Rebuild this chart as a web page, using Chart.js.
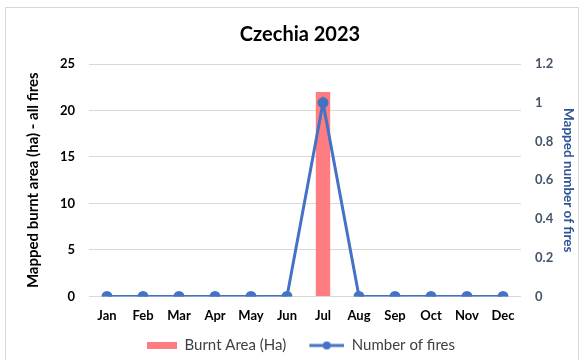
<!DOCTYPE html>
<html>
<head>
<meta charset="utf-8">
<script src="https://cdn.jsdelivr.net/npm/chart.js@4/dist/chart.umd.min.js"></script>
<style>
    body { margin: 0; background: #fff; }
    #frame { position: absolute; left: 5px; top: 7px; width: 572px; height: 360px; border: 1px solid #d9d9d9; border-bottom: none; }
    #wrap { position: absolute; left: 0; top: 0; width: 584px; height: 360px; }
</style>
</head>
<body>
<div id="frame"></div>
<div id="wrap"><canvas id="chart"></canvas></div>
<script>
const months = ['Jan', 'Feb', 'Mar', 'Apr', 'May', 'Jun', 'Jul', 'Aug', 'Sep', 'Oct', 'Nov', 'Dec'];
const burntArea = [0, 0, 0, 0, 0, 0, 22, 0, 0, 0, 0, 0];
const numberOfFires = [0, 0, 0, 0, 0, 0, 1, 0, 0, 0, 0, 0];

const FONT = 'Lato, "Open Sans", sans-serif';
const SWATCH_W = 56;

// legend swatches (transparent on the left so items get some air between them)
function makeBarSwatch() {
    const c = document.createElement('canvas');
    c.width = SWATCH_W; c.height = 7;
    const g = c.getContext('2d');
    g.fillStyle = '#ff7c80';
    g.fillRect(SWATCH_W - 30, 0, 30, 7);
    return c;
}
function makeLineSwatch() {
    const c = document.createElement('canvas');
    c.width = SWATCH_W; c.height = 10;
    const g = c.getContext('2d');
    const x0 = SWATCH_W - 35;
    g.strokeStyle = '#4472c4';
    g.lineWidth = 3;
    g.beginPath(); g.moveTo(x0, 5); g.lineTo(SWATCH_W, 5); g.stroke();
    g.fillStyle = '#4472c4';
    g.beginPath(); g.arc(x0 + 17.5, 5, 4, 0, Math.PI * 2); g.fill();
    return c;
}

// nudge the legend a little to the left, like the original
const legendShift = {
    id: 'legendShift',
    afterLayout(chart) {
        chart.legend.left -= 12;
        chart.legend.right -= 12;
    }
};

new Chart(document.getElementById('chart'), {
    data: {
        labels: months,
        datasets: [
            {
                type: 'line',
                label: 'Number of fires',
                data: numberOfFires,
                yAxisID: 'y1',
                borderColor: '#4472c4',
                backgroundColor: '#4472c4',
                borderWidth: 3,
                pointRadius: 4,
                pointHoverRadius: 4,
                tension: 0,
                order: 0
            },
            {
                type: 'bar',
                label: 'Burnt Area (Ha)',
                data: burntArea,
                yAxisID: 'y',
                backgroundColor: '#ff7c80',
                barPercentage: 0.4,
                categoryPercentage: 1,
                order: 1
            }
        ]
    },
    plugins: [legendShift],
    options: {
        responsive: true,
        maintainAspectRatio: false,
        animation: false,
        layout: { padding: { left: 20, right: 4, top: 10, bottom: -3 } },
        plugins: {
            title: {
                display: true,
                text: 'Czechia 2023',
                color: '#000',
                font: { family: FONT, size: 20, weight: 'bold' },
                padding: { top: 13, bottom: 17 }
            },
            legend: {
                position: 'bottom',
                labels: {
                    usePointStyle: true,
                    pointStyleWidth: SWATCH_W,
                    color: '#404040',
                    font: { family: FONT, size: 15 },
                    padding: 2,
                    generateLabels(chart) {
                        return [
                            { text: 'Burnt Area (Ha)', pointStyle: makeBarSwatch(), fontColor: '#404040', datasetIndex: 1, lineWidth: 0, strokeStyle: 'transparent' },
                            { text: 'Number of fires', pointStyle: makeLineSwatch(), fontColor: '#404040', datasetIndex: 0, lineWidth: 0, strokeStyle: 'transparent' }
                        ];
                    }
                }
            },
            tooltip: { enabled: false }
        },
        scales: {
            x: {
                grid: { display: false, drawTicks: false },
                border: { display: false },
                ticks: { color: '#000', font: { family: FONT, size: 13, weight: 'bold' }, padding: 12 }
            },
            y: {
                position: 'left',
                min: 0,
                max: 25,
                ticks: { stepSize: 5, color: '#000', font: { family: FONT, size: 13, weight: 'bold' }, padding: 14 },
                grid: { color: '#d9d9d9', lineWidth: 1, drawTicks: false },
                border: { display: false },
                title: {
                    display: true,
                    text: 'Mapped burnt area (ha) - all fires',
                    color: '#000',
                    font: { family: FONT, size: 15, weight: 'bold' }
                },
                afterFit(scale) { scale.width = 69; }
            },
            y1: {
                position: 'right',
                min: 0,
                max: 1.2,
                ticks: {
                    stepSize: 0.2,
                    color: '#44546a',
                    font: { family: FONT, size: 13, weight: 'bold' },
                    padding: 14,
                    callback: v => String(+v.toFixed(1))
                },
                grid: { display: false, drawTicks: false },
                border: { display: false },
                title: {
                    display: true,
                    text: 'Mapped number of fires',
                    color: '#2f5597',
                    font: { family: FONT, size: 13.5, weight: 'bold' }
                },
                afterFit(scale) { scale.width = 59; }
            }
        }
    }
});
</script>
</body>
</html>
